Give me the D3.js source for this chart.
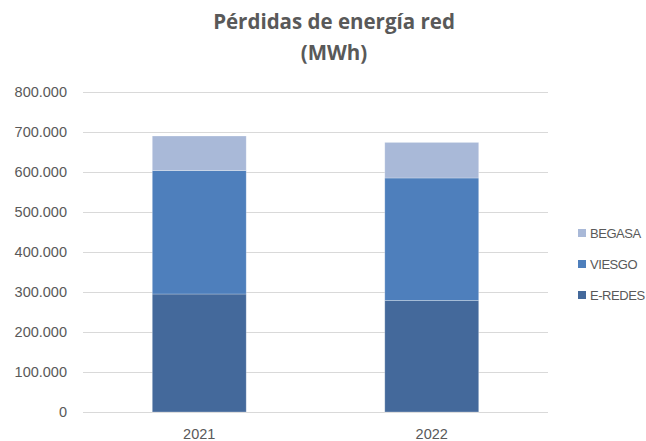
<!DOCTYPE html>
<html>
<head>
<meta charset="utf-8">
<script src="https://cdn.jsdelivr.net/npm/d3@7"></script>
<style>
  body { margin: 0; background: #fff; }
  text { font-family: "Liberation Sans", Arial, sans-serif; }
</style>
</head>
<body>
<svg id="chart" width="646" height="441"></svg>
<script>
// values (MWh)
const years = ['2021', '2022'];
const eRedes = [295000, 279000];
const viesgo = [308500, 306000];
const begasa = [86500, 89000];
const yTicks = [0, 100000, 200000, 300000, 400000, 500000, 600000, 700000, 800000];

const seriesNames = ['E-REDES', 'VIESGO', 'BEGASA'];
const colors = { 'E-REDES': '#44699b', 'VIESGO': '#4e7fbc', 'BEGASA': '#a9b9d8' };

const rows = years.map((y, i) => ({
    year: y,
    'E-REDES': eRedes[i],
    'VIESGO': viesgo[i],
    'BEGASA': begasa[i]
}));

const svg = d3.select('#chart');
const margin = { left: 83, right: 98, top: 92, bottom: 29 };
const width = 646 - margin.left - margin.right;
const height = 441 - margin.top - margin.bottom;

const x = d3.scaleBand()
    .domain(years)
    .range([0, width])
    .paddingInner(0.596)
    .paddingOuter(0.298);

const y = d3.scaleLinear()
    .domain([0, 800000])
    .range([height, 0]);

const fmt = v => v === 0 ? '0' : d3.format(',')(v).replace(/,/g, '.');

const g = svg.append('g').attr('transform', `translate(${margin.left},${margin.top})`);

// gridlines
g.append('g')
    .selectAll('line')
    .data(yTicks)
    .join('line')
    .attr('x1', 0)
    .attr('x2', width)
    .attr('y1', d => Math.round(y(d)) + 0.5)
    .attr('y2', d => Math.round(y(d)) + 0.5)
    .attr('stroke', '#d9d9d9')
    .attr('stroke-width', 1);

// y labels
g.append('g')
    .selectAll('text')
    .data(yTicks)
    .join('text')
    .attr('x', -16)
    .attr('y', d => y(d))
    .attr('dy', '0.35em')
    .attr('text-anchor', 'end')
    .attr('fill', '#595959')
    .style('font-size', '14.5px')
    .text(fmt);

const stacked = d3.stack().keys(seriesNames)(rows);

g.append('g')
    .selectAll('g')
    .data(stacked)
    .join('g')
    .attr('fill', d => colors[d.key])
    .selectAll('rect')
    .data(d => d)
    .join('rect')
    .attr('x', d => x(d.data.year))
    .attr('width', x.bandwidth())
    .attr('y', d => y(d[1]))
    .attr('height', d => y(d[0]) - y(d[1]))
    .attr('stroke', 'rgba(255,255,255,0.35)')
    .attr('stroke-width', 0.75);

// x labels
g.append('g')
    .selectAll('text')
    .data(years)
    .join('text')
    .attr('x', d => x(d) + x.bandwidth() / 2)
    .attr('y', height + 27)
    .attr('text-anchor', 'middle')
    .attr('fill', '#595959')
    .style('font-size', '14.5px')
    .text(d => d);

// title
const title = svg.append('text')
    .attr('x', 334)
    .attr('text-anchor', 'middle')
    .attr('fill', '#595959')
    .style('font-family', '"Open Sans", sans-serif')
    .style('font-weight', 'bold')
    .style('font-size', '20.5px');
title.append('tspan').attr('x', 334).attr('y', 29).text('Pérdidas de energía red');
title.append('tspan').attr('x', 334).attr('y', 60).text('(MWh)');

// legend
const legendNames = ['BEGASA', 'VIESGO', 'E-REDES'];
const legend = svg.append('g')
    .selectAll('g')
    .data(legendNames)
    .join('g')
    .attr('transform', (d, i) => `translate(578, ${233 + i * 31})`);

legend.append('rect')
    .attr('x', 0)
    .attr('y', -4)
    .attr('width', 8)
    .attr('height', 8)
    .attr('fill', d => colors[d]);

legend.append('text')
    .attr('x', 12)
    .attr('y', 0)
    .attr('dy', '0.35em')
    .attr('fill', '#595959')
    .style('font-size', '13px')
    .style('letter-spacing', '-0.45px')
    .text(d => d);
</script>
</body>
</html>
